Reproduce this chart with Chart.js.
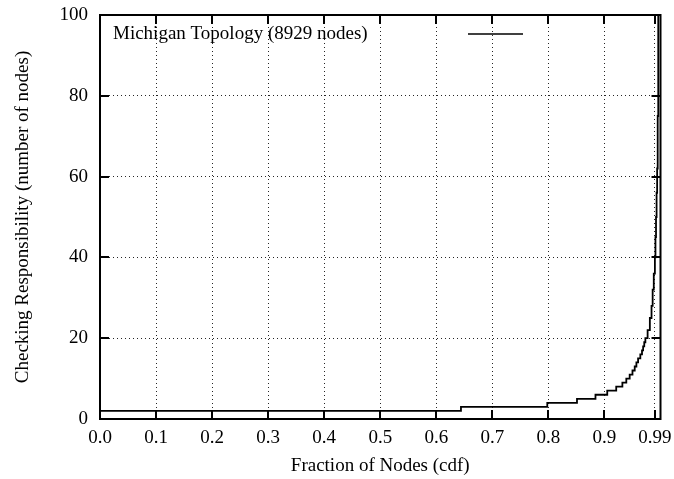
<!DOCTYPE html>
<html>
<head>
<meta charset="utf-8">
<script src="https://cdn.jsdelivr.net/npm/chart.js@4.4.1/dist/chart.umd.min.js"></script>
<style>
  html, body { margin: 0; padding: 0; background: #fff; }
  canvas { display: block; }
</style>
</head>
<body>
<canvas id="c" width="674" height="479"></canvas>
<script>
// ---- data ----
const seriesLabel = 'Michigan Topology (8929 nodes)';
const cdfFraction = [0, 0.644, 0.798, 0.851, 0.884, 0.905, 0.921, 0.932, 0.939, 0.945,
  0.950, 0.954, 0.957, 0.960, 0.964, 0.967, 0.969, 0.971, 0.973, 0.977,
  0.981, 0.984, 0.986, 0.988, 0.990, 0.991, 0.992, 0.993, 0.994, 0.995, 0.996];
const responsibility = [2, 3, 4, 5, 6, 7, 8, 9, 10, 11,
  12, 13, 14, 15, 16, 17, 18, 19, 20, 22,
  25, 28, 32, 36, 40, 45, 50, 56, 62, 75, 100];
const xTickValues = [0, 0.1, 0.2, 0.3, 0.4, 0.5, 0.6, 0.7, 0.8, 0.9, 0.99];
const xTickLabels = ['0.0', '0.1', '0.2', '0.3', '0.4', '0.5', '0.6', '0.7', '0.8', '0.9', '0.99'];
const yTickValues = [0, 20, 40, 60, 80, 100];
const xTitle = 'Fraction of Nodes (cdf)';
const yTitle = 'Checking Responsibility (number of nodes)';

const FONT = 'Liberation Serif, Times New Roman, serif';

const points = cdfFraction.map((x, i) => ({ x: x, y: responsibility[i] }));

const framePlugin = {
  id: 'frame',
  beforeDraw(chart) {
    const ctx = chart.ctx;
    ctx.save();
    ctx.fillStyle = '#fff';
    ctx.fillRect(0, 0, chart.width, chart.height);
    ctx.restore();
  },
  afterDraw(chart) {
    const ctx = chart.ctx;
    const a = chart.chartArea;
    const xs = chart.scales.x, ys = chart.scales.y;
    ctx.save();
    ctx.strokeStyle = '#000';
    ctx.lineWidth = 2;
    ctx.beginPath();
    const tl = 9;
    xs.ticks.forEach(t => {
      const px = Math.round(xs.getPixelForValue(t.value));
      ctx.moveTo(px, a.bottom); ctx.lineTo(px, a.bottom - tl);
      ctx.moveTo(px, a.top); ctx.lineTo(px, a.top + tl);
    });
    ys.ticks.forEach(t => {
      const py = Math.round(ys.getPixelForValue(t.value));
      ctx.moveTo(a.left, py); ctx.lineTo(a.left + tl, py);
      ctx.moveTo(a.right, py); ctx.lineTo(a.right - tl, py);
    });
    ctx.stroke();
    ctx.strokeRect(a.left, a.top, a.right - a.left, a.bottom - a.top);
    // key
    const ds = chart.data.datasets[0];
    ctx.font = '19px ' + FONT;
    ctx.fillStyle = '#000';
    ctx.textBaseline = 'middle';
    ctx.textAlign = 'left';
    ctx.fillText(ds.label, a.left + 13, a.top + 19);
    ctx.lineWidth = 1.5;
    ctx.strokeStyle = ds.borderColor;
    ctx.beginPath();
    ctx.moveTo(468, a.top + 19);
    ctx.lineTo(523, a.top + 19);
    ctx.stroke();
    ctx.restore();
  }
};

new Chart(document.getElementById('c'), {
  type: 'line',
  data: {
    datasets: [{
      label: seriesLabel,
      data: points,
      stepped: 'before',
      borderColor: '#000',
      borderWidth: 1.8,
      pointRadius: 0,
      fill: false
    }]
  },
  options: {
    responsive: false,
    animation: false,
    layout: { padding: { top: 15, right: 13.5, left: 0, bottom: 0 } },
    plugins: { legend: { display: false }, tooltip: { enabled: false } },
    scales: {
      x: {
        type: 'linear',
        min: 0, max: 1,
        afterBuildTicks(s) { s.ticks = xTickValues.map(v => ({ value: v })); },
        afterFit(s) { s.height = 60; s.paddingLeft = 0; s.paddingRight = 0; },
        ticks: {
          autoSkip: false, maxRotation: 0, padding: 8,
          color: '#000', font: { family: FONT, size: 19 },
          callback: (v, i) => xTickLabels[i]
        },
        grid: { color: 'rgba(0,0,0,0.85)', lineWidth: 1, drawTicks: false },
        border: { display: true, color: '#000', width: 2, dash: [1, 3] },
        title: { display: true, text: xTitle, color: '#000', font: { family: FONT, size: 19 }, padding: { top: 0, bottom: 2 } }
      },
      y: {
        min: 0, max: 100,
        afterBuildTicks(s) { s.ticks = yTickValues.map(v => ({ value: v })); },
        afterFit(s) { s.width = 100; s.paddingTop = 0; s.paddingBottom = 0; },
        ticks: {
          padding: 12, color: '#000', font: { family: FONT, size: 19 },
          callback: (v) => String(v)
        },
        grid: { color: 'rgba(0,0,0,0.85)', lineWidth: 1, drawTicks: false },
        border: { display: true, color: '#000', width: 2, dash: [1, 3] },
        title: { display: true, text: yTitle, color: '#000', font: { family: FONT, size: 19 }, padding: { top: 12, bottom: 0 } }
      }
    }
  },
  plugins: [framePlugin]
});
</script>
</body>
</html>
